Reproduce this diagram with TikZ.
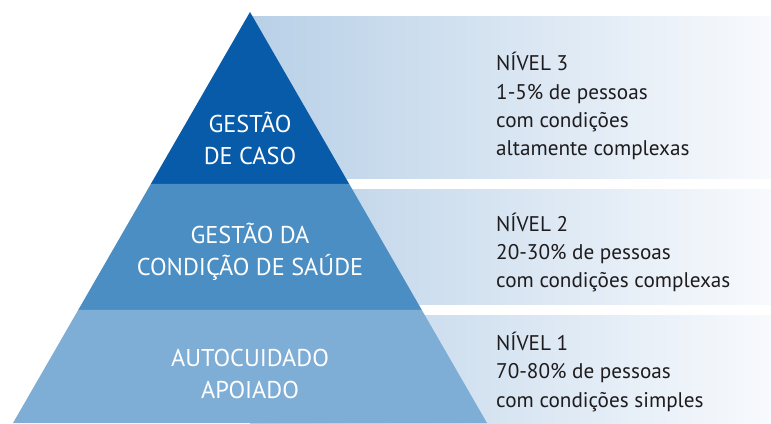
\documentclass[tikz,border=0pt]{standalone}
\usepackage{fontspec}
\setmainfont{PT Sans}
\definecolor{topblue}{RGB}{7,91,169}
\definecolor{midblue}{RGB}{75,142,196}
\definecolor{lowblue}{RGB}{126,173,213}
\definecolor{bandleft}{RGB}{184,208,231}
\definecolor{bandright}{RGB}{248,250,253}
\definecolor{txtdark}{RGB}{30,28,30}
\begin{document}
\begin{tikzpicture}[x=1pt,y=1pt,
  band/.style={left color=bandleft,right color=bandright,draw=none},
  tiertext/.style={text=white,align=center,anchor=base,font=\fontsize{24.3}{32.5}\selectfont,inner sep=0pt},
  leveltext/.style={text=txtdark,align=left,anchor=base west,font=\fontsize{21.2}{28.4}\selectfont,inner sep=0pt}]
\useasboundingbox (0,0) rectangle (771,423);
% gradient bands
\shade[band] (250,406) rectangle (771,244);
\shade[band] (250,233) rectangle (771,118);
\shade[band] (250,107) rectangle (771,0);
% pyramid tiers
\fill[topblue] (250,411) -- (349.2,239) -- (150.8,239) -- cycle;
\fill[midblue] (150.8,239) -- (349.2,239) -- (421.8,113) -- (78.2,113) -- cycle;
\fill[lowblue] (78.2,113) -- (421.8,113) -- (487,0) -- (13,0) -- cycle;
% tier labels (anchor = baseline of last line)
\node[tiertext] (t3) at (250,258) {GESTÃO\\DE CASO};
\node[tiertext] (t2) at (250,147) {GESTÃO DA\\CONDIÇÃO DE SAÚDE};
\node[tiertext] (t1) at (250,24) {AUTOCUIDADO\\APOIADO};
% level texts (anchor = baseline of last line)
\node[leveltext] (n3) at (496,267) {NÍVEL 3\\1-5\% de pessoas\\com condições\\altamente complexas};
\node[leveltext] (n2) at (496,135) {NÍVEL 2\\20-30\% de pessoas\\com condições complexas};
\node[leveltext] (n1) at (496,16) {NÍVEL 1\\70-80\% de pessoas\\com condições simples};
\end{tikzpicture}
\end{document}
